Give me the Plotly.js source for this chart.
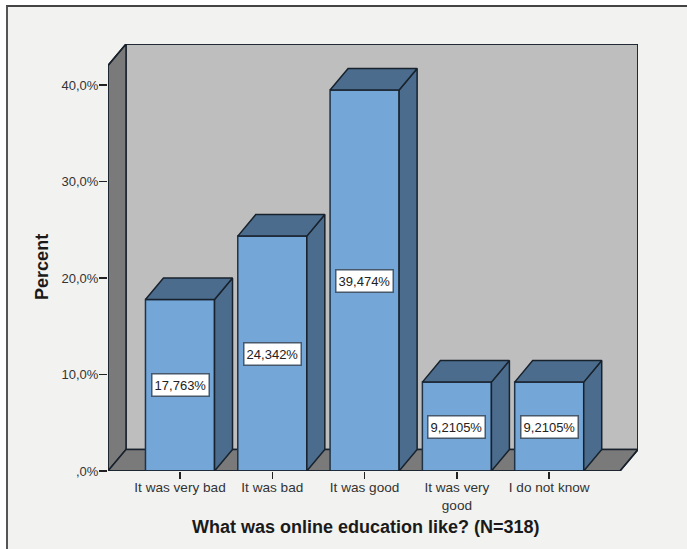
<!DOCTYPE html>
<html>
<head>
<meta charset="utf-8">
<script src="https://cdn.plot.ly/plotly-3.0.1.min.js"></script>
<style>
  html, body { margin: 0; padding: 0; background: #ffffff; width: 687px; height: 549px; overflow: hidden; }
  #frame { position: absolute; left: 6px; top: 5px; right: 0; bottom: 0; background: #f2f2f0;
           border-left: 2px solid #555; border-top: 2px solid #444; }
  #chart { position: absolute; left: 0; top: 0; width: 687px; height: 549px; }
</style>
</head>
<body>
<div id="frame"></div>
<div id="chart"></div>
<script>
// Survey answers and their share of respondents
const categories = ['It was very bad', 'It was bad', 'It was good', 'It was very<br>good', 'I do not know'];
const percents = [17.763, 24.342, 39.474, 9.2105, 9.2105];
const valueLabels = ['17,763%', '24,342%', '39,474%', '9,2105%', '9,2105%'];
const yTickValues = [0, 10, 20, 30, 40];
const yTickLabels = [',0%', '10,0%', '20,0%', '30,0%', '40,0%'];

// Extent of the axes and the oblique offset of the fake 3D box, in data units
const xMin = -0.78, xMax = 4.962, yMax = 44.25;
const depthX = 0.195, depthY = 2.23;
const barWidth = 0.748, half = barWidth / 2;

const positions = categories.map((_, i) => i);
const edge = '#18222c';
const fontFamily = 'Liberation Sans, Arial, sans-serif';

// Right-hand and top faces of each bar, as null-separated polygons
const sideX = [], sideY = [], topX = [], topY = [];
positions.forEach((x, i) => {
  const v = percents[i];
  sideX.push(x + half, x + half + depthX, x + half + depthX, x + half, x + half, null);
  sideY.push(0, depthY, v + depthY, v, 0, null);
  topX.push(x - half, x - half + depthX, x + half + depthX, x + half, x - half, null);
  topY.push(v, v + depthY, v + depthY, v, v, null);
});

const polygon = (xs, ys, fill) => ({
  type: 'scatter', mode: 'lines', x: xs, y: ys, fill: 'toself', fillcolor: fill,
  line: { color: edge, width: 1.5 }, hoverinfo: 'skip', showlegend: false
});

const traces = [
  {
    type: 'bar', x: positions, y: percents, width: barWidth,
    marker: { color: '#74a6d8', line: { color: '#1f3348', width: 1.5 } },
    hoverinfo: 'y', showlegend: false
  },
  polygon(sideX, sideY, '#4b6c8d'),
  polygon(topX, topY, '#4b6c8d'),
  // Outer outline of the box, drawn unclipped so the edge lines keep their full width
  {
    type: 'scatter', mode: 'lines', cliponaxis: false, hoverinfo: 'skip', showlegend: false,
    x: [xMax - depthX, xMin, xMin, xMin + depthX, xMax, xMax, xMax - depthX],
    y: [0, 0, yMax - depthY, yMax, yMax, depthY, 0],
    line: { color: edge, width: 1.5 }
  }
];

const wall = (path, fill) => ({
  type: 'path', path, xref: 'x', yref: 'y', layer: 'below', fillcolor: fill,
  line: { color: edge, width: 1.5 }
});
const pathOf = pts => 'M' + pts.map(p => p.join(',')).join('L') + 'Z';

const shapes = [
  wall(pathOf([[xMin + depthX, depthY], [xMax, depthY], [xMax, yMax], [xMin + depthX, yMax]]), '#bebebe'),
  wall(pathOf([[xMin, 0], [xMin + depthX, depthY], [xMin + depthX, yMax], [xMin, yMax - depthY]]), '#7a7a7a'),
  wall(pathOf([[xMin, 0], [xMax - depthX, 0], [xMax, depthY], [xMin + depthX, depthY]]), '#7a7a7a')
];

const annotations = positions.map((x, i) => ({
  x, y: percents[i] / 2, xref: 'x', yref: 'y', text: valueLabels[i], showarrow: false,
  width: 54, height: 19, borderpad: 1,
  bgcolor: '#ffffff', bordercolor: '#47586a', borderwidth: 1.5,
  font: { family: fontFamily, size: 13, color: '#222' }
}));
annotations.push(
  {
    x: 0.487, y: -0.131, xref: 'paper', yref: 'paper', showarrow: false,
    xanchor: 'center', yanchor: 'middle',
    text: '<b>What was online education like? (N=318)</b>',
    font: { family: fontFamily, size: 18, color: '#1a1a1a' }
  },
  {
    x: -0.1245, y: 0.478, xref: 'paper', yref: 'paper', showarrow: false, textangle: -90,
    xanchor: 'center', yanchor: 'middle',
    text: '<b>Percent</b>',
    font: { family: fontFamily, size: 18, color: '#1a1a1a' }
  }
);

const layout = {
  width: 687, height: 549,
  margin: { l: 108, r: 49, t: 44, b: 78, pad: 0 },
  paper_bgcolor: 'rgba(0,0,0,0)', plot_bgcolor: 'rgba(0,0,0,0)',
  font: { family: fontFamily, size: 13, color: '#333' },
  showlegend: false, bargap: 0,
  xaxis: {
    range: [xMin, xMax], showgrid: false, zeroline: false, showline: false,
    tickmode: 'array', tickvals: positions, ticktext: categories,
    tickfont: { size: 13.6 }, ticklabelstandoff: -3,
    ticks: 'outside', ticklen: 7, tickwidth: 1.5, tickcolor: '#222', tickangle: 0
  },
  yaxis: {
    range: [0, yMax], showgrid: false, zeroline: false, showline: false,
    tickmode: 'array', tickvals: yTickValues, ticktext: yTickLabels,
    ticklabelstandoff: -2,
    ticks: 'outside', ticklen: 8, tickwidth: 1.5, tickcolor: '#222'
  },
  shapes, annotations
};

Plotly.newPlot('chart', traces, layout, { displayModeBar: false, staticPlot: true });
</script>
</body>
</html>
